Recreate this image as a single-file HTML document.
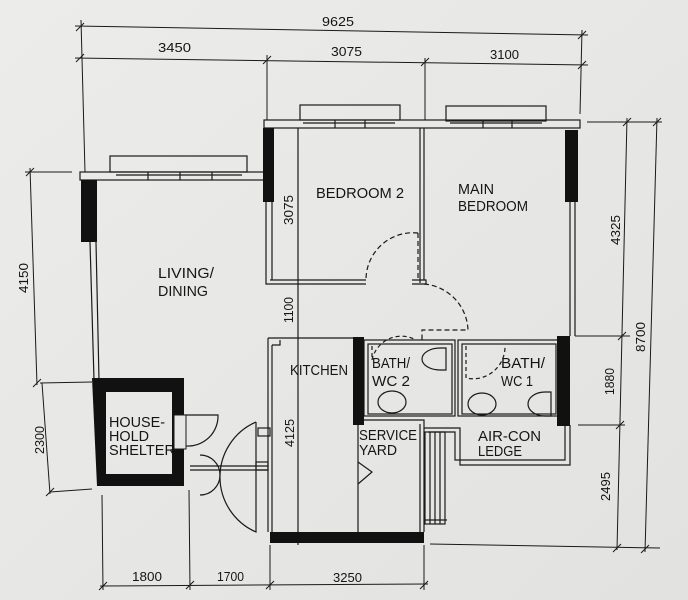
<!DOCTYPE html>
<html><head><meta charset="utf-8"><style>
html,body{margin:0;padding:0;background:#e8e8e6;}
svg{display:block}
text{font-family:"Liberation Sans Narrow","Liberation Sans",sans-serif;fill:#151515}
</style></head><body>
<svg width="688" height="600" viewBox="0 0 688 600" xmlns="http://www.w3.org/2000/svg">
<defs><linearGradient id="bg" x1="0" y1="0" x2="1" y2="1"><stop offset="0" stop-color="#ececea"/><stop offset="1" stop-color="#e2e2e0"/></linearGradient></defs>
<rect width="688" height="600" fill="url(#bg)"/>
<g stroke="#1a1a1a" stroke-width="1" fill="none">
<!-- top dims -->
<line x1="75" y1="26" x2="588" y2="35"/>
<line x1="75" y1="58" x2="588" y2="65"/>
<line x1="81" y1="20" x2="85" y2="172"/>
<line x1="267" y1="55" x2="267" y2="120"/>
<line x1="425" y1="58" x2="425" y2="120"/>
<line x1="582" y1="30" x2="580" y2="114"/>
<path d="M76,31 l8,-8 M76,62 l8,-8 M263,64 l8,-8 M421,66 l8,-8 M578,39 l8,-8 M578,69 l8,-8"/>
<!-- right dims -->
<line x1="587" y1="122" x2="662" y2="122"/>
<line x1="627" y1="118" x2="617" y2="550"/>
<line x1="657" y1="118" x2="645" y2="552"/>
<line x1="575" y1="336" x2="630" y2="336"/>
<line x1="578" y1="425" x2="625" y2="425"/>
<line x1="430" y1="544" x2="660" y2="548"/>
<path d="M623,126 l8,-8 M653,126 l8,-8 M618,340 l8,-8 M616,429 l8,-8 M613,552 l8,-8 M641,553 l8,-8"/>
<!-- left dims -->
<line x1="25" y1="172" x2="72" y2="172"/>
<line x1="30" y1="168" x2="37" y2="385"/>
<line x1="40" y1="383" x2="92" y2="382"/>
<line x1="42" y1="383" x2="50" y2="494"/>
<line x1="50" y1="492" x2="92" y2="489"/>
<path d="M26,176 l8,-8 M33,387 l8,-8 M46,496 l8,-8"/>
<!-- bottom dims -->
<line x1="100" y1="586" x2="428" y2="584"/>
<line x1="102" y1="495" x2="103" y2="590"/>
<line x1="189" y1="490" x2="190" y2="590"/>
<line x1="270" y1="545" x2="270" y2="590"/>
<line x1="424" y1="545" x2="424" y2="590"/>
<path d="M99,590 l8,-8 M186,589 l8,-8 M266,589 l8,-8 M420,589 l8,-8"/>
</g>
<g stroke="#1a1a1a" stroke-width="1.2" fill="none">
<!-- upper building top wall -->
<rect x="264" y="120" width="316" height="8"/>
<rect x="300" y="105" width="100" height="15"/>
<rect x="446" y="106" width="100" height="15"/>
<path d="M303,123 h92 M450,123 h92 M335,120 v8 M365,120 v8 M483,120 v8 M512,120 v8"/>
<!-- living top wall -->
<rect x="80" y="172" width="186" height="8"/>
<rect x="110" y="156" width="137" height="16"/>
<path d="M116,175 h126 M148,172 v8 M180,172 v8 M212,172 v8"/>
<!-- living left wall -->
<path d="M90,242 L94,380 M96,242 L99,380"/>
<!-- bedroom2 left/bottom -->
<path d="M266,202 V284 H366 M272,202 V280 H366 M272,280 l-2,0"/>
<line x1="298" y1="128" x2="298" y2="545"/>
<!-- bedroom partition -->
<path d="M420,128 V283 M424,128 V280 M412,280 h14 v4 h-14"/>
<!-- right wall thin -->
<path d="M570,202 V336 M575,202 V336"/>
<!-- kitchen -->
<path d="M268,338 V532 M272,345 V532 M268,338 H356 M272,345 h8 v-5"/>
<!-- baths -->
<rect x="364" y="340" width="91" height="76"/>
<rect x="368" y="344" width="84" height="70"/>
<rect x="458" y="340" width="100" height="76"/>
<rect x="462" y="344" width="94" height="70"/>
<!-- service yard -->
<path d="M364,420 H424 V532 M420,424 V532 M358,425 V532"/>
<path d="M358,462 l14,10 l-14,12"/>
<!-- stairs -->
<rect x="425" y="432" width="20" height="92"/>
<path d="M430,432 v92 M435,432 v92 M440,432 v92 M425,520 h22"/>
<!-- air-con ledge -->
<path d="M424,428 H460 V465 H570 V425 M428,432 H455 V460 H565 V425"/>
<!-- doors -->
<path d="M418,233 V280 M418,233 A47,47 0 0 0 366,280" stroke-dasharray="5,3"/>
<path d="M424,284 A48,48 0 0 1 468,330 H422 V340" stroke-dasharray="5,3"/>
<path d="M372,346 V360 A30,30 0 0 1 416,340" stroke-dasharray="4,3"/>
<path d="M466,346 V378 A32,32 0 0 0 505,346" stroke-dasharray="4,3"/>
<path d="M174,415 H218 A30,30 0 0 1 186,446"/>
<path d="M174,415 V446"/>
<path d="M256,422 V532 A60,60 0 0 1 256,422"/>
<path d="M190,470 H268 M190,466 H268 M200,455 a10,10 0 0 1 0,40"/>
<rect x="258" y="428" width="12" height="8"/>
<rect x="256" y="462" width="12" height="8"/>
<!-- fixtures -->
<ellipse cx="392" cy="402" rx="14" ry="11"/>
<path d="M440,348 h6 v22 h-6 a18,11 0 0 1 0,-22 z"/>
<ellipse cx="482" cy="404" rx="14" ry="11"/>
<path d="M545,392 h6 v24 h-6 a17,12 0 0 1 0,-24 z"/>
</g>
<!-- black walls -->
<g fill="#111">
<rect x="263" y="128" width="11" height="74"/>
<rect x="565" y="130" width="13" height="72"/>
<rect x="81" y="180" width="16" height="62"/>
<path d="M92,378 H184 V486 H97 Z M106,392 V474 H172 V392 Z" fill-rule="evenodd"/>
<rect x="270" y="532" width="154" height="11"/>
<rect x="353" y="337" width="11" height="88"/>
<rect x="557" y="336" width="13" height="90"/>
</g>
<rect x="174" y="415" width="12" height="34" fill="#e6e6e4" stroke="#1a1a1a"/>
<!-- labels -->
<g font-size="15">
<text x="316" y="198" textLength="88" lengthAdjust="spacingAndGlyphs">BEDROOM 2</text>
<text x="458" y="194" textLength="36" lengthAdjust="spacingAndGlyphs">MAIN</text>
<text x="458" y="211" textLength="70" lengthAdjust="spacingAndGlyphs">BEDROOM</text>
<text x="158" y="278" textLength="56" lengthAdjust="spacingAndGlyphs">LIVING/</text>
<text x="158" y="296" textLength="50" lengthAdjust="spacingAndGlyphs">DINING</text>
<text x="290" y="375" textLength="58" lengthAdjust="spacingAndGlyphs">KITCHEN</text>
<text x="372" y="368" textLength="38" lengthAdjust="spacingAndGlyphs">BATH/</text>
<text x="372" y="386" textLength="38" lengthAdjust="spacingAndGlyphs">WC 2</text>
<text x="501" y="368" textLength="44" lengthAdjust="spacingAndGlyphs">BATH/</text>
<text x="501" y="386" textLength="32" lengthAdjust="spacingAndGlyphs">WC 1</text>
<text x="109" y="427" textLength="56" lengthAdjust="spacingAndGlyphs">HOUSE-</text>
<text x="109" y="441" textLength="40" lengthAdjust="spacingAndGlyphs">HOLD</text>
<text x="109" y="455" textLength="66" lengthAdjust="spacingAndGlyphs">SHELTER</text>
<text x="359" y="440" textLength="58" lengthAdjust="spacingAndGlyphs">SERVICE</text>
<text x="359" y="455" textLength="38" lengthAdjust="spacingAndGlyphs">YARD</text>
<text x="478" y="441" textLength="63" lengthAdjust="spacingAndGlyphs">AIR-CON</text>
<text x="478" y="456" textLength="44" lengthAdjust="spacingAndGlyphs">LEDGE</text>
</g>
<g font-size="13">
<text x="322" y="26" textLength="32" lengthAdjust="spacingAndGlyphs">9625</text>
<text x="158" y="52" textLength="33" lengthAdjust="spacingAndGlyphs">3450</text>
<text x="331" y="56" textLength="31" lengthAdjust="spacingAndGlyphs">3075</text>
<text x="490" y="59" textLength="29" lengthAdjust="spacingAndGlyphs">3100</text>
<text x="132" y="581" textLength="30" lengthAdjust="spacingAndGlyphs">1800</text>
<text x="217" y="581" textLength="27" lengthAdjust="spacingAndGlyphs">1700</text>
<text x="333" y="582" textLength="29" lengthAdjust="spacingAndGlyphs">3250</text>
<text transform="translate(293,225) rotate(-90)" textLength="30" lengthAdjust="spacingAndGlyphs">3075</text>
<text transform="translate(293,323) rotate(-90)" textLength="26" lengthAdjust="spacingAndGlyphs">1100</text>
<text transform="translate(294,447) rotate(-90)" textLength="28" lengthAdjust="spacingAndGlyphs">4125</text>
<text transform="translate(28,293) rotate(-90)" textLength="30" lengthAdjust="spacingAndGlyphs">4150</text>
<text transform="translate(44,454) rotate(-90)" textLength="28" lengthAdjust="spacingAndGlyphs">2300</text>
<text transform="translate(620,245) rotate(-90)" textLength="30" lengthAdjust="spacingAndGlyphs">4325</text>
<text transform="translate(645,352) rotate(-90)" textLength="30" lengthAdjust="spacingAndGlyphs">8700</text>
<text transform="translate(614,395) rotate(-90)" textLength="27" lengthAdjust="spacingAndGlyphs">1880</text>
<text transform="translate(610,501) rotate(-90)" textLength="29" lengthAdjust="spacingAndGlyphs">2495</text>
</g>
</svg>
</body></html>
